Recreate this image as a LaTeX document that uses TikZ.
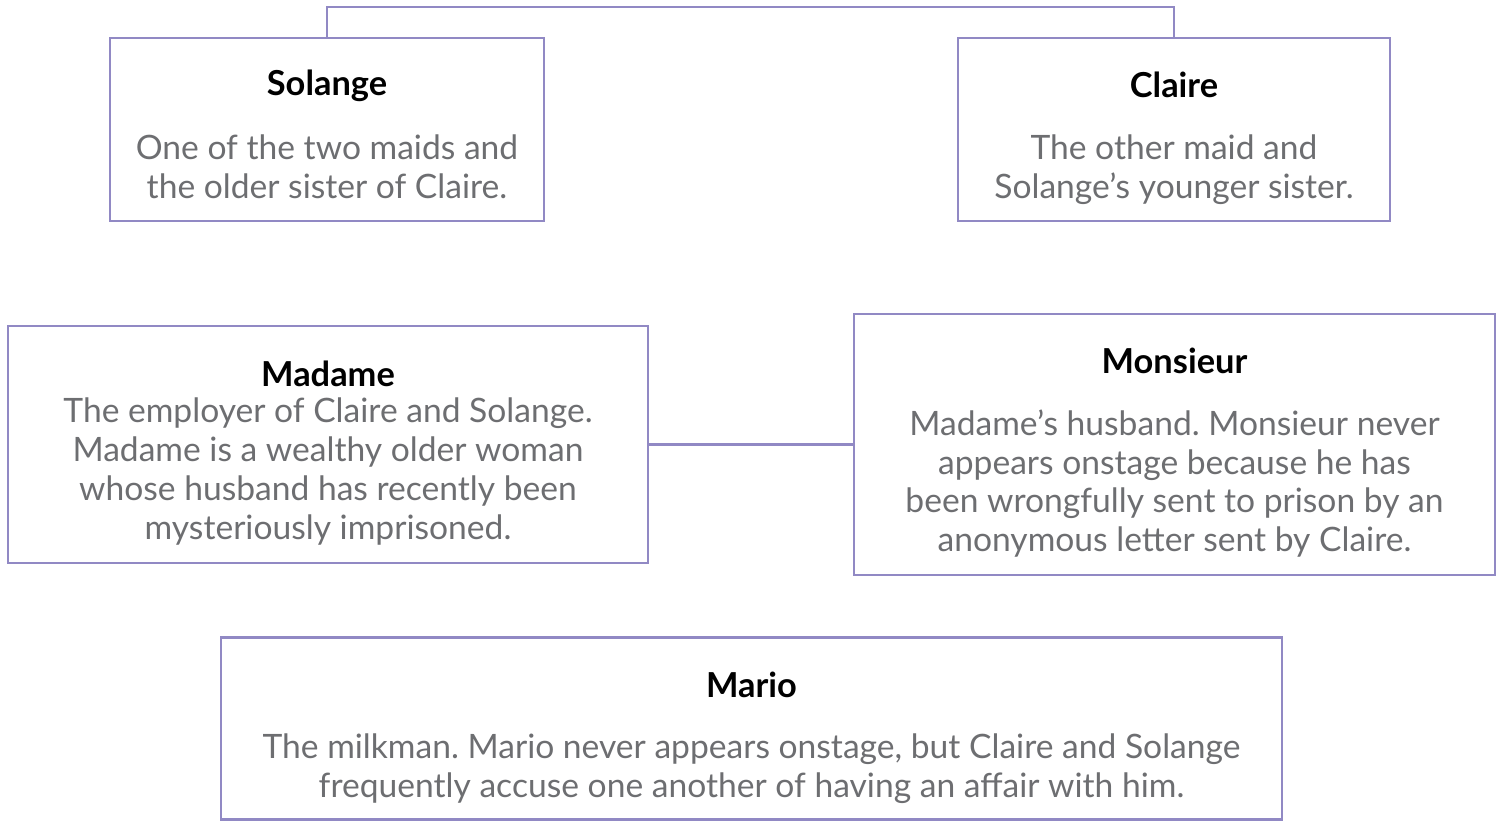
\documentclass[tikz,border=0pt]{standalone}
\usepackage{fontspec}
\setmainfont{Lato}
\frenchspacing
\definecolor{boxline}{HTML}{9189C4}
\definecolor{bodygray}{HTML}{6D6E71}
\tikzset{
  charbox/.style={draw=boxline, line width=1.2pt, inner sep=0pt},
  charname/.style={font=\fontsize{17.2}{19}\selectfont\bfseries, text=black, inner sep=0pt},
  chartext/.style={font=\fontsize{16.8}{19.35}\selectfont, text=bodygray, align=center, inner sep=0pt},
  link/.style={draw=boxline, line width=1.2pt}
}
\begin{document}
\begin{tikzpicture}[x=0.5pt,y=-0.5pt]
	\useasboundingbox (0,0) rectangle (1503,821);
	% boxes
	\node[charbox, minimum width=434*0.5pt, minimum height=183*0.5pt] (solange) at (327,129.5) {};
	\node[charbox, minimum width=432*0.5pt, minimum height=183*0.5pt] (claire) at (1174,129.5) {};
	\node[charbox, minimum width=640*0.5pt, minimum height=237*0.5pt] (madame) at (328,444.5) {};
	\node[charbox, minimum width=641*0.5pt, minimum height=261*0.5pt] (monsieur) at (1174.5,444.5) {};
	\node[charbox, minimum width=1061*0.5pt, minimum height=182*0.5pt] (mario) at (751.5,728.5) {};
	% names and descriptions
	\node[charname] (solangename) at (327,85.5) {Solange};
	\node[chartext] (solangetext) at (327,166.5) {One of the two maids and\\the older sister of Claire.};
	\node[charname] (clairename) at (1174,85) {Claire};
	\node[chartext] (clairetext) at (1174,169.5) {The other maid and\\Solange’s younger sister.};
	\node[charname] (madamename) at (328,373.5) {Madame};
	\node[chartext] (madametext) at (328,471.5) {The employer of Claire and Solange.\\Madame is a wealthy older woman\\whose husband has recently been\\mysteriously imprisoned.};
	\node[charname] (monsieurname) at (1174.5,361) {Monsieur};
	\node[chartext] (monsieurtext) at (1174.5,483.5) {Madame’s husband. Monsieur never\\appears onstage because he has\\been wrongfully sent to prison by an\\anonymous letter sent by Claire.};
	\node[charname] (marioname) at (751.5,685) {Mario};
	\node[chartext] (mariotext) at (751.5,769) {The milkman. Mario never appears onstage, but Claire and Solange\\frequently accuse one another of having an affair with him.};
	% links
	\coordinate (sisters) at (750,7);
	\draw[link] (solange.north) |- (sisters) -| (claire.north);
	\draw[link] (madame.east) -- (monsieur.west);
\end{tikzpicture}
\end{document}
